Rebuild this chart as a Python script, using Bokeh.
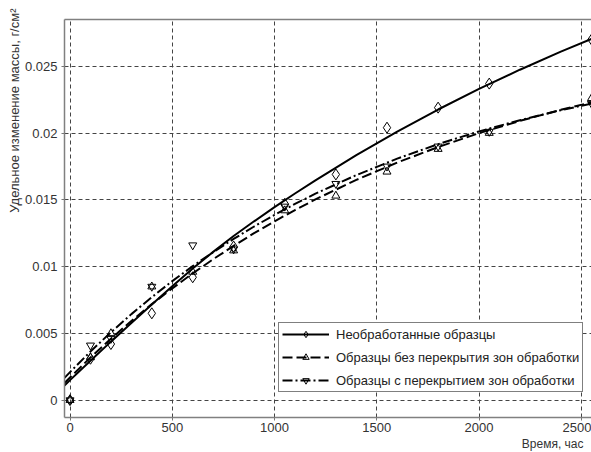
import math
from bokeh.plotting import figure
from bokeh.models import Range1d, FixedTicker, LinearAxis, Legend, LegendItem, Title
from bokeh.embed import file_html
from bokeh.resources import INLINE

# measured samples
hours = [0, 100, 200, 400, 600, 800, 1050, 1300, 1550, 1800, 2050, 2550]
untreated = [0, 0.0031, 0.0042, 0.0065, 0.0092, 0.0115, 0.0147, 0.0169, 0.0204, 0.0219, 0.0237, 0.0270]
no_overlap = [0, 0.0032, 0.0050, 0.0085, 0.0096, 0.0112, 0.0142, 0.0153, 0.0171, 0.0188, 0.0200, 0.0226]
with_overlap = [0, 0.0041, 0.0046, 0.0085, 0.0116, 0.0113, 0.0145, 0.0162, 0.0175, 0.0190, 0.0201, 0.0222]

# fitted curves
fit_hours = [-27, 0, 100, 200, 300, 400, 500, 600, 700, 800, 900, 1000, 1100, 1200, 1400, 1600, 1800, 2000,
             2200, 2400, 2550]
fit_untreated = [0.0011, 0.0015, 0.00295, 0.00438, 0.00578, 0.00716, 0.00852, 0.00986, 0.01110, 0.01229, 0.01339,
                 0.01445, 0.01547, 0.01646, 0.01835, 0.02011, 0.02176, 0.02330, 0.02474, 0.02609, 0.02705]
fit_no_overlap = [0.00128, 0.0017, 0.00319, 0.00460, 0.00593, 0.00719, 0.00837, 0.00949, 0.01055, 0.01155, 0.01250,
                  0.01339, 0.01423, 0.01503, 0.01649, 0.01779, 0.01895, 0.01999, 0.02091, 0.02174, 0.02230]
fit_with_overlap = [0.00167, 0.0021, 0.00364, 0.00508, 0.00644, 0.00771, 0.00891, 0.01003, 0.01108, 0.01207, 0.01300,
                    0.01387, 0.01469, 0.01546, 0.01685, 0.01808, 0.01917, 0.02012, 0.02096, 0.02171, 0.02220]

x_ticks = [0, 500, 1000, 1500, 2000, 2500]
x_tick_labels = ["0", "500", "1000", "1500", "2000", "2500"]
y_ticks = [0, 0.005, 0.01, 0.015, 0.02, 0.025]
y_tick_labels = ["0", "0.005", "0.01", "0.015", "0.02", "0.025"]

labels = ["Необработанные образцы",
          "Образцы без перекрытия зон обработки",
          "Образцы с перекрытием зон обработки"]
x_title = "Время, час"
y_title = "Удельное изменение массы, г/см²"

FONT = "Liberation Sans"

p = figure(width=591, height=452, output_backend="svg", toolbar_location=None,
           x_range=Range1d(-27, 2550), y_range=Range1d(-0.0013, 0.0285),
           min_border_left=64, min_border_top=19, min_border_bottom=35, min_border_right=0)
p.outline_line_color = None
p.background_fill_color = "white"
p.border_fill_color = "white"

for ax, ticks, labs in ((p.xaxis[0], x_ticks, x_tick_labels), (p.yaxis[0], y_ticks, y_tick_labels)):
    ax.ticker = FixedTicker(ticks=ticks)
    ax.major_label_overrides = {t: l for t, l in zip(ticks, labs)}
    ax.minor_tick_line_color = None
    ax.major_tick_in = 0
    ax.major_tick_out = 3
    ax.major_tick_line_color = "#777777"
    ax.axis_line_color = "#808080"
    ax.axis_line_width = 1.5
    ax.major_label_text_font = FONT
    ax.major_label_text_font_size = "13px"
    ax.major_label_text_color = "#333333"
p.xaxis[0].major_label_standoff = 2
p.yaxis[0].major_label_standoff = 4

top = LinearAxis(ticker=FixedTicker(ticks=[]), axis_line_color="#808080", axis_line_width=1.5,
                 major_label_text_font_size="0px", major_tick_line_color=None, minor_tick_line_color=None)
p.add_layout(top, "above")

for g in (p.xgrid[0], p.ygrid[0]):
    g.grid_line_color = "#444444"
    g.grid_line_dash = "4 3"
    g.grid_line_width = 1
p.xgrid[0].ticker = FixedTicker(ticks=x_ticks)
p.ygrid[0].ticker = FixedTicker(ticks=y_ticks)

l1 = p.line(fit_hours, fit_untreated, line_color="black", line_width=2)
l2 = p.line(fit_hours, fit_no_overlap, line_color="black", line_width=2, line_dash="10 4")
l3 = p.line(fit_hours, fit_with_overlap, line_color="black", line_width=2, line_dash="10 3 2 3")
s1 = p.scatter(hours, untreated, marker="diamond", size=11, line_color="black", fill_color=None, line_width=1)
s2 = p.scatter(hours, no_overlap, marker="triangle", size=8, line_color="black", fill_color=None, line_width=1)
s3 = p.scatter(hours, with_overlap, marker="inverted_triangle", size=8, line_color="black", fill_color=None, line_width=1)

legend = Legend(items=[LegendItem(label=labels[0], renderers=[l1, s1]),
                       LegendItem(label=labels[1], renderers=[l2, s2]),
                       LegendItem(label=labels[2], renderers=[l3, s3])],
                location=(214, 25), glyph_width=47, glyph_height=16, label_height=16,
                spacing=7, padding=3, margin=0, label_standoff=7,
                label_text_font=FONT, label_text_font_size="13px", label_text_color="#222222",
                border_line_color="black", border_line_width=1.5, background_fill_color="white",
                background_fill_alpha=1)
p.add_layout(legend)

p.add_layout(Title(text=x_title, align="right", offset=8, standoff=0, text_font=FONT,
                   text_font_size="12px", text_font_style="normal", text_color="#333333"), "below")
p.add_layout(Title(text=y_title, align="right", offset=-11, standoff=0, text_font=FONT,
                   text_font_size="13px", text_font_style="normal", text_color="#333333"), "left")

open("out.html", "w").write(file_html(p, INLINE))
